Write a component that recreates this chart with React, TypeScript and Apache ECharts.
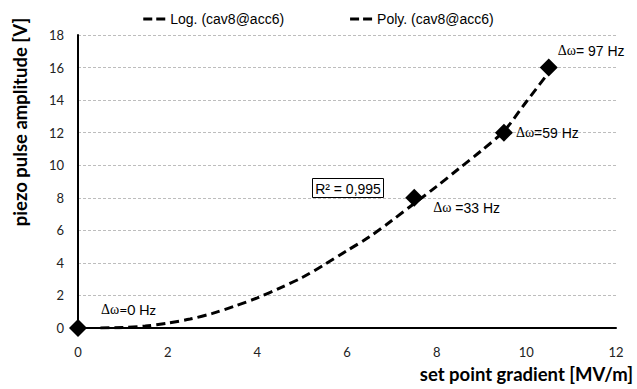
import React, { useEffect, useRef } from "react";
import * as echarts from "echarts";

const xTicks = [0, 2, 4, 6, 8, 10, 12];
const yTicks = [0, 2, 4, 6, 8, 10, 12, 14, 16, 18];

const pointX = [0, 7.5, 9.5, 10.5];
const pointY = [0, 8, 12, 16];
const pointLabels = ["=0 Hz", " =33 Hz", "=59 Hz", "= 97 Hz"];
const labelOffsets: [number, number][] = [
  [9, -19],
  [5, 10],
  [-2, 0],
  [-5, -17],
];

// dashed trend curve
const curveX = [0.5, 1, 1.5, 2, 2.5, 3, 3.5, 4, 4.5, 5, 5.5, 6, 6.5, 7, 7.5, 8, 8.5, 9, 9.5, 10, 10.5];
const curveY = [0, 0.03, 0.12, 0.3, 0.55, 0.9, 1.35, 1.85, 2.45, 3.1, 3.9, 4.75, 5.6, 6.6, 7.65, 8.7, 9.8, 10.9, 12.1, 13.9, 15.7];

const legendNames = ["Log. (cav8@acc6)", "Poly. (cav8@acc6)"];
const r2Text = "R² = 0,995";
const xTitle = "set point gradient [MV/m]";
const yTitle = "piezo pulse amplitude [V]";

export default function App() {
  const ref = useRef<HTMLDivElement>(null);
  useEffect(() => {
    if (!ref.current) return;
    const chart = echarts.init(ref.current, null, { renderer: "svg" });
    const dash = { color: "#000", width: 3, type: [9, 5] as number[] };
    const icon = "path://M0,0h9v3h-9z M13,0h9v3h-9z";
    chart.setOption({
      animation: false,
      backgroundColor: "#fff",
      grid: { left: 78, right: 21, top: 35, bottom: 61 },
      legend: {
        data: [
          { name: legendNames[0], icon },
          { name: legendNames[1], icon },
        ],
        top: 7,
        left: "center",
        itemWidth: 22,
        itemHeight: 3,
        itemGap: 66,
        itemStyle: { color: "#000" },
        textStyle: { fontFamily: "Liberation Sans", fontSize: 14, color: "#000" },
      },
      xAxis: {
        type: "value",
        min: xTicks[0],
        max: xTicks[xTicks.length - 1],
        interval: 2,
        axisLine: { show: true, lineStyle: { color: "#000", width: 2 } },
        axisTick: { show: false },
        splitLine: { show: false },
        axisLabel: { margin: 17, fontFamily: "Lato", fontSize: 13, color: "#222" },
      },
      yAxis: {
        type: "value",
        min: yTicks[0],
        max: yTicks[yTicks.length - 1],
        interval: 2,
        axisLine: { show: true, lineStyle: { color: "#000", width: 2 } },
        axisTick: { show: false },
        splitLine: { show: true, lineStyle: { color: "#bdbdbd", width: 1, type: [3, 2] } },
        axisLabel: { margin: 14, fontFamily: "Lato", fontSize: 13, color: "#222" },
      },
      graphic: [
        {
          type: "text",
          x: 20,
          y: 122,
          rotation: Math.PI / 2,
          style: {
            text: yTitle,
            fontFamily: "Lato",
            fontWeight: "bold",
            fontSize: 18.5,
            fill: "#000",
            align: "center",
            verticalAlign: "middle",
          },
        },
        {
          type: "text",
          x: 633,
          y: 374,
          style: {
            text: xTitle,
            fontFamily: "Lato",
            fontWeight: "bold",
            fontSize: 18.5,
            fill: "#000",
            align: "right",
            verticalAlign: "middle",
          },
        },
        {
          type: "rect",
          shape: { x: 312.5, y: 178.5, width: 71, height: 19 },
          style: { fill: "#fff", stroke: "#000", lineWidth: 1 },
          z: 10,
        },
        {
          type: "text",
          x: 348,
          y: 188.5,
          z: 11,
          style: {
            text: r2Text,
            fontFamily: "Liberation Sans",
            fontSize: 14,
            fill: "#000",
            align: "center",
            verticalAlign: "middle",
          },
        },
      ],
      series: [
        {
          name: legendNames[0],
          type: "line",
          data: [],
          showSymbol: false,
          lineStyle: dash,
          itemStyle: { color: "#000" },
        },
        {
          name: legendNames[1],
          type: "line",
          data: curveX.map((x, i) => [x, curveY[i]]),
          smooth: 0.3,
          showSymbol: false,
          symbol: "none",
          lineStyle: dash,
          itemStyle: { color: "#000" },
          z: 3,
        },
        {
          name: "points",
          type: "scatter",
          symbol: "diamond",
          symbolSize: 18,
          itemStyle: { color: "#000", opacity: 1 },
          z: 4,
          data: pointX.map((x, i) => ({
            value: [x, pointY[i]],
            label: {
              show: true,
              position: "right",
              offset: labelOffsets[i],
              formatter: "{a|Δω}{b|" + pointLabels[i] + "}",
              rich: {
                a: { fontFamily: "Liberation Serif", fontSize: 14, color: "#000" },
                b: {
                  fontFamily: i === 0 ? "Lato" : "Liberation Sans",
                  fontSize: 14,
                  color: "#000",
                },
              },
            },
          })),
        },
      ],
    });
    return () => chart.dispose();
  }, []);
  return (
    <div
      ref={ref}
      style={{ position: "fixed", left: 0, top: 0, width: 637, height: 389 }}
    />
  );
}
